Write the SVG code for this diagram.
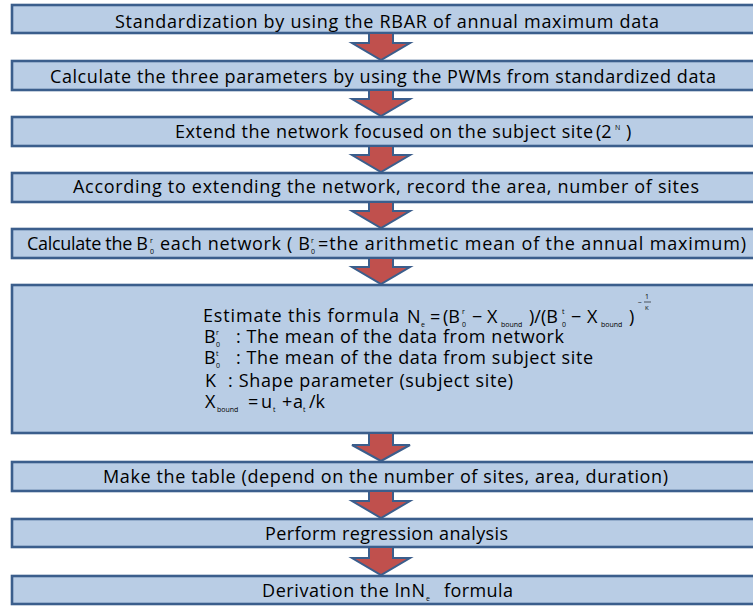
<svg xmlns="http://www.w3.org/2000/svg" width="753" height="606" viewBox="0 0 753 606">
<style>
.box{fill:#B9CDE5;stroke:#3B5E8C;stroke-width:2.6}
.arr{fill:#C0504D;stroke:#3B5E8C;stroke-width:2;stroke-linejoin:miter}
text{font-family:"Open Sans","Noto Sans","DejaVu Sans",sans-serif;fill:#000}
.t{font-size:18px}
.m{font-size:18px}
.s{font-size:7px}
</style>
<rect width="753" height="606" fill="#fff"/>
<g id="n1"><rect class="box" x="12" y="5" width="760" height="28"/>
<text class="t" x="115" y="28" textLength="544" lengthAdjust="spacing">Standardization by using the RBAR of annual maximum data</text></g>
<g id="n2"><rect class="box" x="12" y="61" width="760" height="29"/>
<text class="t" x="50" y="83" textLength="666" lengthAdjust="spacing">Calculate the three parameters by using the PWMs from standardized data</text></g>
<g id="n3"><rect class="box" x="12" y="117" width="760" height="29"/>
<text class="t" x="175" y="138" textLength="418" lengthAdjust="spacing">Extend the network focused on the subject site</text>
<text class="m" x="596" y="138">(2</text><text class="s" x="615" y="130">N</text><text class="m" x="626" y="138">)</text></g>
<g id="n4"><rect class="box" x="12" y="173" width="760" height="29"/>
<text class="t" x="73" y="193" textLength="626" lengthAdjust="spacing">According to extending the network, record the area, number of sites</text></g>
<g id="n5"><rect class="box" x="12" y="229" width="760" height="29"/>
<text class="t" x="27" y="250" textLength="121" lengthAdjust="spacing">Calculate the B</text>
<text class="s" x="150" y="243">r</text><text class="s" x="150" y="254">0</text>
<text class="t" x="160" y="250" textLength="150" lengthAdjust="spacing">each network ( B</text>
<text class="s" x="311" y="243">r</text><text class="s" x="311" y="254">0</text>
<text class="t" x="318" y="250" textLength="428" lengthAdjust="spacing">=the arithmetic mean of the annual maximum)</text></g>
<g id="n6"><rect class="box" x="12" y="285" width="760" height="148"/>
<text class="t" x="203" y="322" textLength="196" lengthAdjust="spacing">Estimate this  formula</text>
<text class="m" x="407" y="323">N</text><text class="s" x="421" y="327">e</text>
<text class="m" x="430" y="323">=</text><text class="m" x="443" y="323">(B</text>
<text class="s" x="462" y="314">r</text><text class="s" x="462" y="327">0</text>
<text class="m" x="472" y="323">−</text><text class="m" x="487" y="323">X</text><text class="s" x="501" y="327">bound</text>
<text class="m" x="529" y="323">)/(B</text>
<text class="s" x="562" y="314">t</text><text class="s" x="562" y="327">0</text>
<text class="m" x="571" y="323">−</text><text class="m" x="587" y="323">X</text><text class="s" x="601" y="327">bound</text>
<text class="m" x="629" y="323">)</text>
<text class="s" x="638" y="305">−</text><text class="s" x="645" y="299">1</text>
<line x1="644" y1="302" x2="651" y2="302" stroke="#000" stroke-width="0.6"/>
<text style="font-size:6px" x="645" y="310">K</text>
<text class="t" x="204" y="343">B</text><text class="s" x="216" y="335">r</text><text class="s" x="216" y="347">0</text>
<text class="t" x="236" y="343" textLength="328" lengthAdjust="spacing">: The mean of the data from network</text>
<text class="t" x="204" y="364">B</text><text class="s" x="216" y="356">t</text><text class="s" x="216" y="368">0</text>
<text class="t" x="236" y="364" textLength="357" lengthAdjust="spacing">: The mean of the data from subject site</text>
<text class="t" x="205" y="387">K</text>
<text class="t" x="228" y="387" textLength="285" lengthAdjust="spacing">: Shape parameter (subject site)</text>
<text class="m" x="205" y="408">X</text><text class="s" x="217" y="412">bound</text>
<text class="m" x="248" y="408">=</text><text class="m" x="261" y="408">u</text><text class="s" x="273" y="412">t</text>
<text class="m" x="282" y="408">+</text><text class="m" x="293" y="408">a</text><text class="s" x="303" y="412">t</text>
<text class="m" x="309" y="408">/k</text></g>
<g id="n7"><rect class="box" x="12" y="462" width="760" height="29"/>
<text class="t" x="103" y="483" textLength="565" lengthAdjust="spacing">Make the table (depend on the number of sites, area, duration)</text></g>
<g id="n8"><rect class="box" x="12" y="519" width="760" height="28"/>
<text class="t" x="265" y="540" textLength="243" lengthAdjust="spacing">Perform regression analysis</text></g>
<g id="n9"><rect class="box" x="12" y="576" width="760" height="28"/>
<text class="t" x="262" y="597" textLength="163" lengthAdjust="spacing">Derivation the lnN</text>
<text class="s" x="426" y="601">e</text>
<text class="t" x="444" y="597" textLength="69" lengthAdjust="spacing">formula</text></g>
<g id="connectors">
<path class="arr" d="M369,33 L393,33 L393,43 L410,43 L381,60 L352,43 L369,43 Z"/>
<path class="arr" d="M369,90 L393,90 L393,99 L410,99 L381,116 L352,99 L369,99 Z"/>
<path class="arr" d="M369,146 L393,146 L393,155 L410,155 L381,172 L352,155 L369,155 Z"/>
<path class="arr" d="M369,202 L393,202 L393,211 L410,211 L381,228 L352,211 L369,211 Z"/>
<path class="arr" d="M369,258 L393,258 L393,267 L410,267 L381,284 L352,267 L369,267 Z"/>
<path class="arr" d="M369,433 L393,433 L393,445 L410,445 L381,461 L352,445 L369,445 Z"/>
<path class="arr" d="M369,491 L393,491 L393,501 L410,501 L381,518 L352,501 L369,501 Z"/>
<path class="arr" d="M369,547 L393,547 L393,558 L410,558 L381,575 L352,558 L369,558 Z"/>
</g>
</svg>
